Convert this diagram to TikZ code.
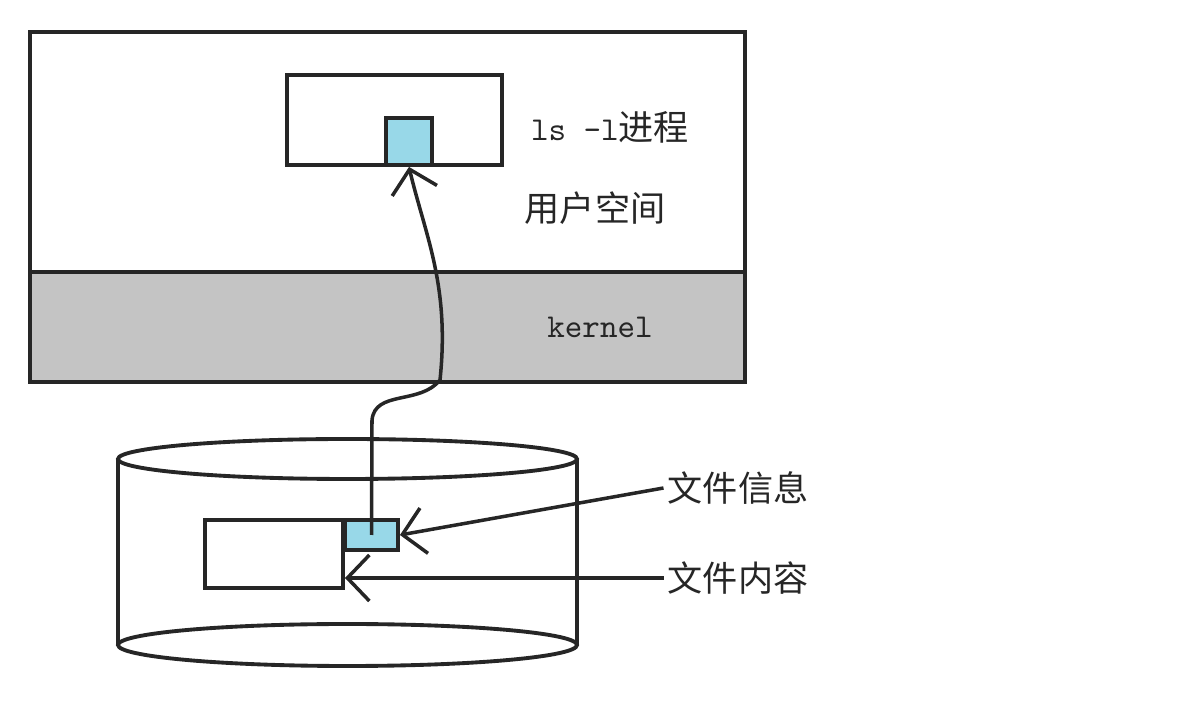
\documentclass[tikz,border=0pt]{standalone}
\usepackage{fontspec}
\newfontfamily\cjk{Noto Sans CJK SC}
\usepackage{tikz}
\usetikzlibrary{arrows.meta,positioning,calc}
\definecolor{PCBblue}{RGB}{152,216,232}
\definecolor{KERNgray}{RGB}{196,196,196}
\tikzset{
    sketch/.style={draw=black!85, line width=1.1pt},
    box/.style={sketch, fill=white, inner sep=0pt},
    pcb/.style={sketch, fill=PCBblue, inner sep=0pt},
    hint/.style={text=black!85, inner sep=1pt},
    barb/.style={draw=black!85, line width=1pt, -{Straight Barb[length=2.2mm,width=4.6mm]}}
}

\begin{document}
\begin{tikzpicture}
    \useasboundingbox (0,0) rectangle (11.99,7.05);
    % machine: user space and kernel
    \fill[KERNgray] (0.30,3.23) rectangle (7.45,4.33);
    \draw[sketch] (0.30,3.23) rectangle (7.45,6.73);
    \draw[sketch] (0.30,4.33) -- (7.45,4.33);
    \node[box, minimum width=2.15cm, minimum height=0.90cm] (proc) at (3.945,5.85) {};
    \node[pcb, minimum width=0.46cm, minimum height=0.47cm] (pcb) at (4.09,5.635) {};
    \node[hint, font=\fontsize{10}{12}\selectfont] (lsname) at (6.10,5.78) {{\ttfamily\fontsize{9.5}{12}\selectfont ls -l}{\cjk 进程}};
    \node[hint, font=\cjk\fontsize{10}{12}\selectfont] (user) at (5.95,4.97) {用户空间};
    \node[hint, font=\ttfamily\fontsize{9.5}{12}\selectfont] (kern) at (6.00,3.78) {kernel};

    % disk
    \draw[sketch] (1.18,0.60) -- (1.18,2.46);
    \draw[sketch] (5.77,0.60) -- (5.77,2.46);
    \draw[sketch, fill=white] (3.475,2.46) ellipse [x radius=2.295, y radius=0.20];
    \draw[sketch] (3.475,0.60) ellipse [x radius=2.295, y radius=0.21];
    \node[box, minimum width=1.38cm, minimum height=0.68cm] (data) at (2.74,1.51) {};
    \node[pcb, minimum width=0.53cm, minimum height=0.30cm] (info) at (3.715,1.70) {};
    \node[hint, font=\cjk\fontsize{10}{12}\selectfont] (infolbl) at (7.38,2.17) {文件信息};
    \node[hint, font=\cjk\fontsize{10}{12}\selectfont] (datalbl) at (7.38,1.27) {文件内容};

    % connectors
    \draw[barb] (info.center) -- (3.72,2.85)
        .. controls (3.75,3.15) and (4.20,3.00) .. (4.40,3.25)
        .. controls (4.50,4.20) and (4.25,4.70) .. (pcb.south);
    \draw[barb] (infolbl.west) -- (info.east);
    \draw[barb] (datalbl.west) -- (data.east |- datalbl.west);
\end{tikzpicture}
\end{document}
